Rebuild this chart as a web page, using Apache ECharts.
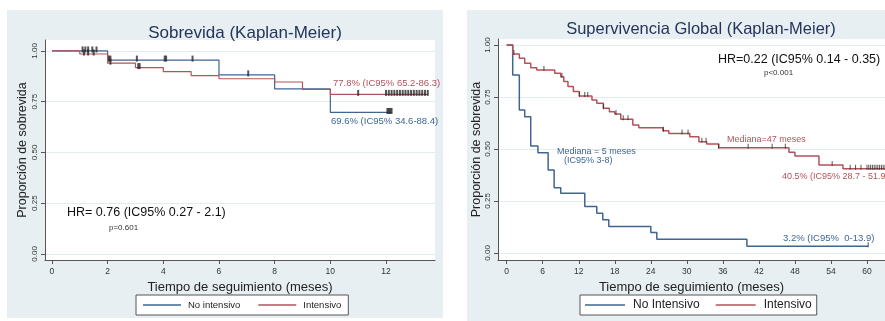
<!DOCTYPE html>
<html>
<head>
<meta charset="utf-8">
<script src="https://cdn.jsdelivr.net/npm/echarts@6/dist/echarts.min.js"></script>
<style>
  html, body { margin: 0; padding: 0; background: #fff; }
  #chart { width: 885px; height: 321px; }
</style>
</head>
<body>
<div id="chart"></div>
<script>
// ---- panel 1: Sobrevida ----
var leftXTicks = [0, 2, 4, 6, 8, 10, 12];
var leftYTicks = [0, 0.25, 0.5, 0.75, 1];
// [time, survival]
var leftNoIntensivo = [[0, 1], [2, 0.955], [6, 0.882], [8, 0.813], [10, 0.697], [12.2, 0.697]];
var leftIntensivo = [[0, 1], [1, 0.985], [2, 0.94], [3, 0.918], [4, 0.898], [5, 0.878], [6, 0.863],
    [8, 0.847], [9, 0.81], [10, 0.786], [13.5, 0.786]];
var leftCensNo = [1.1, 1.2, 1.3, 1.45, 1.6, 2.05, 2.1, 3.05, 4.05, 4.1, 5.05, 7.05, 12.05, 12.1, 12.15, 12.2];
var leftCensInt = [1.15, 1.3, 1.5, 2.1, 3.1, 3.15, 11, 12, 12.1, 12.2, 12.3, 12.4, 12.5, 12.6, 12.7, 12.8,
    12.9, 13, 13.1, 13.2, 13.3, 13.4, 13.5];

// ---- panel 2: Supervivencia Global ----
var rightXTicks = [0, 6, 12, 18, 24, 30, 36, 42, 48, 54, 60];
var rightYTicks = [0, 0.25, 0.5, 0.75, 1];
var rightNoIntensivo = [[0, 1], [1, 0.856], [2.1, 0.688], [3, 0.655], [4, 0.514], [5.2, 0.482], [6.9, 0.399],
    [7.9, 0.314], [9, 0.287], [13, 0.223], [15, 0.191], [16, 0.159], [17, 0.127], [24, 0.098],
    [25, 0.066], [40, 0.032], [60.2, 0.032]];
var rightIntensivo = [[0, 1], [1, 0.957], [2.1, 0.936], [3, 0.912], [4, 0.891], [5, 0.88], [8, 0.864],
    [9, 0.848], [9.5, 0.824], [10.2, 0.8], [11.1, 0.776], [12.1, 0.755], [14.2, 0.736], [15, 0.72],
    [16.1, 0.696], [17.1, 0.679], [18, 0.668], [19, 0.643], [21, 0.615], [22, 0.602], [26, 0.588],
    [27, 0.575], [30.5, 0.559], [32, 0.535], [33.3, 0.524], [35.3, 0.506], [47, 0.484], [48, 0.466],
    [52, 0.423], [56, 0.405], [64, 0.405]];
var rightCensNo = [60.2];
var rightCensInt = [1.2, 6.2, 9.2, 12.1, 13, 13.5, 16.1, 18.2, 19.4, 20.2, 26.1, 29.2, 30.2, 32.5, 33.2,
    35.3, 40.2, 44.2, 46.4, 54.2, 57.2, 58.1, 59, 60, 60.3, 60.6, 60.9, 61.2, 61.5, 61.8, 62.1, 62.4,
    62.7, 63];

var BLUE = '#3f6593';
var RED = '#b4525a';
var FONT = '"Liberation Sans", Arial, sans-serif';

// survival value at time t from a step curve
function survAt(curve, t) {
    var s = curve[0][1];
    for (var i = 0; i < curve.length; i++) {
        if (curve[i][0] <= t) s = curve[i][1];
    }
    return s;
}
function censorPoints(curve, times) {
    return times.map(function (t) { return [t, survAt(curve, t)]; });
}

function xAxisOpt(gridIndex, min, max, ticks) {
    return {
        type: 'value', gridIndex: gridIndex, min: min, max: max,
        name: 'Tiempo de seguimiento (meses)', nameLocation: 'middle', nameGap: 17,
        nameTextStyle: { fontFamily: FONT, fontSize: 13, color: '#222' },
        axisLine: { show: true, onZero: false, lineStyle: { color: '#555', width: 1 } },
        axisTick: { show: true, inside: false, length: 4, customValues: ticks, lineStyle: { color: '#555' } },
        axisLabel: { customValues: ticks, margin: 7, fontFamily: FONT, fontSize: 8.5, color: '#333' },
        splitLine: { show: false }
    };
}
function yAxisOpt(gridIndex, min, max, ticks, nameGap) {
    return {
        type: 'value', gridIndex: gridIndex, min: min, max: max,
        name: 'Proporción de sobrevida', nameLocation: 'middle', nameGap: nameGap,
        nameTextStyle: { fontFamily: FONT, fontSize: 12.5, color: '#222' },
        axisLine: { show: true, onZero: false, lineStyle: { color: '#555', width: 1 } },
        axisTick: { show: true, inside: false, length: 4, customValues: ticks, lineStyle: { color: '#555' } },
        axisLabel: {
            customValues: ticks, rotate: 90, margin: 6, fontFamily: FONT, fontSize: 8, color: '#333',
            formatter: function (v) { return v.toFixed(2); }
        },
        splitLine: { show: true, lineStyle: { color: '#e2ebee', width: 1 } }
    };
}
function kmLine(name, data, color, xi, width) {
    return {
        name: name, type: 'line', step: 'end', data: data, xAxisIndex: xi, yAxisIndex: xi,
        showSymbol: false, symbol: 'none', color: color,
        lineStyle: { color: color, width: width }, animation: false, z: 3
    };
}
function censors(data, xi, w, h) {
    return {
        type: 'scatter', data: data, xAxisIndex: xi, yAxisIndex: xi,
        symbol: 'rect', symbolSize: [w, h], symbolOffset: [0, -1.5],
        itemStyle: { color: '#2a2a2a' }, animation: false, z: 4, silent: true
    };
}
function note(text, x, y, size, color, align) {
    return {
        type: 'text', z: 100, x: x, y: y,
        style: { text: text, fontFamily: FONT, fontSize: size, fill: color, textAlign: align || 'left', textVerticalAlign: 'middle' }
    };
}

var myChart = echarts.init(document.getElementById('chart'));

var option = {
    animation: false,
    title: [
        { text: 'Sobrevida (Kaplan-Meier)', left: 240, top: 20, textAlign: 'center',
          textStyle: { fontFamily: FONT, fontSize: 17, fontWeight: 'normal', color: '#24345a' } },
        { text: 'Supervivencia Global (Kaplan-Meier)', left: 696, top: 16, textAlign: 'center',
          textStyle: { fontFamily: FONT, fontSize: 16.5, fontWeight: 'normal', color: '#24345a' } }
    ],
    grid: [
        { left: 45, top: 40, width: 390, height: 220, show: true, backgroundColor: '#fff', borderWidth: 0 },
        { left: 498, top: 39, width: 387, height: 221, show: true, backgroundColor: '#fff', borderWidth: 0 }
    ],
    xAxis: [
        xAxisOpt(0, -0.25, 13.76, leftXTicks),
        xAxisOpt(1, -1.45, 63.0, rightXTicks)
    ],
    yAxis: [
        yAxisOpt(0, -0.03, 1.054, leftYTicks, 16),
        yAxisOpt(1, -0.034, 1.029, rightYTicks, 14)
    ],
    legend: [
        { data: ['No intensivo', 'Intensivo'], left: 136, top: 295, orient: 'horizontal',
          icon: 'rect', itemWidth: 38, itemHeight: 1.5, itemGap: 18,
          padding: [5, 7, 5, 7], borderColor: '#555', borderWidth: 1, backgroundColor: '#fff',
          textStyle: { fontFamily: FONT, fontSize: 9.5, color: '#222', padding: [0, 0, 0, 2] } },
        { data: ['No Intensivo', 'Intensivo'], left: 580, top: 295, orient: 'horizontal',
          icon: 'rect', itemWidth: 40, itemHeight: 1.5, itemGap: 16,
          padding: [4, 5, 4, 5], borderColor: '#555', borderWidth: 1, backgroundColor: '#fff',
          textStyle: { fontFamily: FONT, fontSize: 12, color: '#222', padding: [0, 0, 0, 3] } }
    ],
    graphic: [
        { type: 'rect', z: -10, shape: { x: 7, y: 10, width: 436, height: 308 }, style: { fill: '#e7eff2' } },
        { type: 'rect', z: -10, shape: { x: 467, y: 10, width: 418, height: 311 }, style: { fill: '#e7eff2' } },
        note('77.8% (IC95% 65.2-86.3)', 333, 83, 9.5, RED),
        note('69.6% (IC95% 34.6-88.4)', 331, 121, 9.5, BLUE),
        note('HR= 0.76 (IC95% 0.27 - 2.1)', 67, 213, 12.5, '#111'),
        note('p=0.601', 109, 228, 8, '#333'),
        note('HR=0.22 (IC95% 0.14 - 0.35)', 718, 60, 12.5, '#111'),
        note('p<0.001', 764, 73, 8, '#333'),
        note('Mediana = 5 meses', 557, 152, 9, BLUE),
        note('(IC95% 3-8)', 564, 161, 9, BLUE),
        note('Mediana=47 meses', 727, 140, 9, RED),
        note('40.5% (IC95% 28.7 - 51.9)', 782, 177, 9, RED),
        note('3.2% (IC95%  0-13.9)', 783, 238, 9.5, BLUE)
    ],
    series: [
        kmLine('No intensivo', leftNoIntensivo, BLUE, 0, 1.2),
        kmLine('Intensivo', leftIntensivo, RED, 0, 1.2),
        censors(censorPoints(leftNoIntensivo, leftCensNo), 0, 2, 6),
        censors(censorPoints(leftIntensivo, leftCensInt), 0, 2, 6),
        kmLine('No Intensivo', rightNoIntensivo, BLUE, 1, 1.5),
        kmLine('Intensivo', rightIntensivo, RED, 1, 1.5),
        censors(censorPoints(rightNoIntensivo, rightCensNo), 1, 1, 5),
        censors(censorPoints(rightIntensivo, rightCensInt), 1, 1, 5)
    ]
};

myChart.setOption(option);
</script>
</body>
</html>
